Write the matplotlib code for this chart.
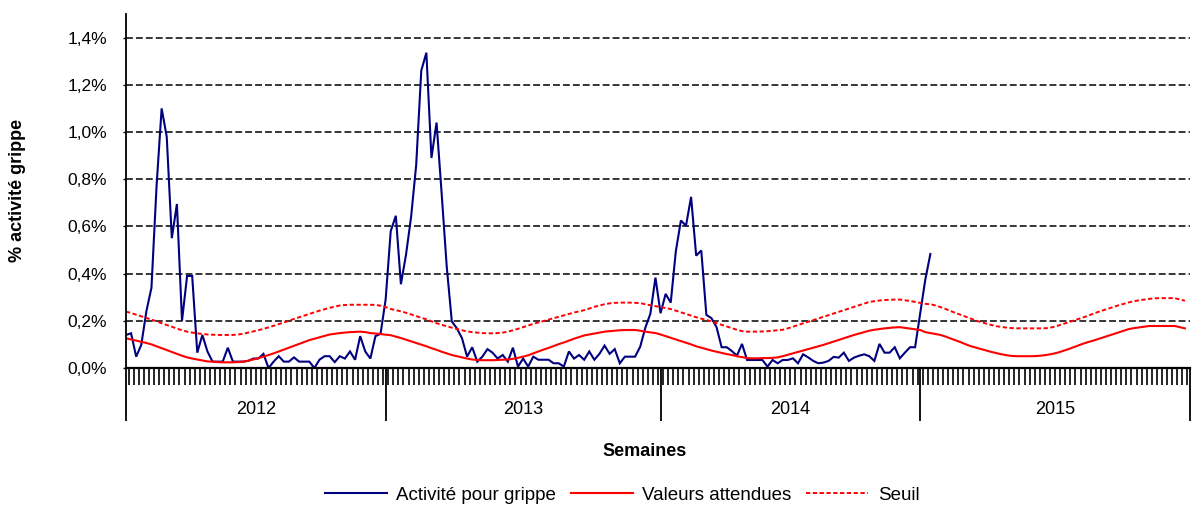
import numpy as np
import matplotlib
matplotlib.use('Agg')
import matplotlib.pyplot as plt
from matplotlib.ticker import FixedLocator, FuncFormatter
import matplotlib.transforms as mtransforms

plt.rcParams['font.family'] = ['Liberation Sans', 'DejaVu Sans']

# weekly % activity (2012 w1 -> 2015 w2)
activite = [0.14, 0.147, 0.048, 0.098, 0.24, 0.34, 0.77, 1.10, 0.98, 0.55, 0.695, 0.20, 0.39, 0.39,
            0.065, 0.14, 0.07, 0.027, 0.027, 0.027, 0.086, 0.027, 0.027, 0.027, 0.03, 0.04, 0.04, 0.06,
            0.0, 0.027, 0.05, 0.027, 0.027, 0.045, 0.027, 0.027, 0.027, 0.0, 0.035, 0.05, 0.05, 0.025,
            0.05, 0.04, 0.07, 0.035, 0.135, 0.07, 0.04, 0.135, 0.145, 0.29, 0.58, 0.645, 0.355, 0.48,
            0.64, 0.86, 1.26, 1.336, 0.89, 1.04, 0.74, 0.43, 0.197, 0.168, 0.126, 0.048, 0.088, 0.027,
            0.048, 0.08, 0.065, 0.04, 0.055, 0.027, 0.086, 0.006, 0.04, 0.006, 0.048, 0.035, 0.035,
            0.035, 0.02, 0.02, 0.006, 0.07, 0.04, 0.055, 0.035, 0.07, 0.035, 0.06, 0.095, 0.06, 0.08,
            0.02, 0.048, 0.048, 0.048, 0.09, 0.17, 0.23, 0.383, 0.232, 0.314, 0.277, 0.494, 0.625,
            0.603, 0.725, 0.476, 0.498, 0.225, 0.211, 0.173, 0.088, 0.088, 0.072, 0.052, 0.102, 0.034,
            0.034, 0.034, 0.034, 0.006, 0.034, 0.02, 0.034, 0.034, 0.041, 0.02, 0.058, 0.045, 0.03,
            0.02, 0.023, 0.03, 0.047, 0.044, 0.065, 0.03, 0.044, 0.052, 0.058, 0.05, 0.03, 0.102,
            0.065, 0.065, 0.088, 0.041, 0.065, 0.088, 0.088, 0.232, 0.374, 0.483]

attendues = [0.126, 0.121, 0.116, 0.111, 0.106, 0.100, 0.092, 0.084, 0.076, 0.068, 0.060, 0.052, 0.045,
             0.040, 0.036, 0.032, 0.028, 0.027, 0.025, 0.024, 0.024, 0.024, 0.025, 0.027, 0.031, 0.036,
             0.042, 0.048, 0.055, 0.062, 0.070, 0.078, 0.086, 0.094, 0.102, 0.110, 0.118, 0.124, 0.130,
             0.136, 0.142, 0.145, 0.148, 0.150, 0.152, 0.153, 0.154, 0.152, 0.148, 0.146, 0.144, 0.141,
             0.139, 0.133, 0.127, 0.120, 0.113, 0.106, 0.099, 0.092, 0.084, 0.077, 0.069, 0.062, 0.055,
             0.050, 0.045, 0.040, 0.036, 0.034, 0.033, 0.033, 0.033, 0.034, 0.035, 0.036, 0.039, 0.043,
             0.048, 0.054, 0.062, 0.070, 0.078, 0.085, 0.093, 0.101, 0.108, 0.116, 0.124, 0.131, 0.138,
             0.142, 0.146, 0.150, 0.154, 0.156, 0.158, 0.160, 0.161, 0.161, 0.161, 0.158, 0.154, 0.151,
             0.148, 0.142, 0.135, 0.128, 0.121, 0.114, 0.107, 0.100, 0.092, 0.086, 0.080, 0.074, 0.069,
             0.064, 0.059, 0.055, 0.050, 0.046, 0.042, 0.041, 0.041, 0.042, 0.042, 0.043, 0.045, 0.050,
             0.056, 0.062, 0.068, 0.074, 0.080, 0.086, 0.092, 0.098, 0.105, 0.112, 0.119, 0.126, 0.133,
             0.140, 0.146, 0.152, 0.158, 0.162, 0.165, 0.168, 0.170, 0.172, 0.173, 0.170, 0.167, 0.164,
             0.161, 0.152, 0.148, 0.144, 0.140, 0.133, 0.125, 0.117, 0.109, 0.100, 0.092, 0.086, 0.080,
             0.074, 0.068, 0.063, 0.058, 0.054, 0.051, 0.050, 0.050, 0.050, 0.050, 0.051, 0.053, 0.056,
             0.060, 0.065, 0.072, 0.079, 0.087, 0.095, 0.103, 0.110, 0.116, 0.123, 0.130, 0.137, 0.144,
             0.151, 0.158, 0.165, 0.169, 0.172, 0.175, 0.178, 0.178, 0.178, 0.178, 0.178, 0.178, 0.173,
             0.168]

seuil = [0.239, 0.233, 0.226, 0.219, 0.212, 0.205, 0.198, 0.190, 0.182, 0.175, 0.167, 0.160, 0.154, 0.150,
         0.147, 0.144, 0.142, 0.141, 0.140, 0.140, 0.140, 0.140, 0.142, 0.145, 0.150, 0.155, 0.160, 0.166,
         0.172, 0.179, 0.186, 0.193, 0.200, 0.208, 0.215, 0.222, 0.229, 0.236, 0.243, 0.249, 0.255, 0.260,
         0.265, 0.267, 0.268, 0.268, 0.268, 0.268, 0.268, 0.267, 0.264, 0.258, 0.250, 0.245, 0.240, 0.234,
         0.227, 0.220, 0.213, 0.206, 0.198, 0.190, 0.183, 0.177, 0.171, 0.165, 0.160, 0.155, 0.152, 0.150,
         0.148, 0.147, 0.147, 0.148, 0.150, 0.154, 0.160, 0.166, 0.173, 0.180, 0.187, 0.193, 0.199, 0.205,
         0.211, 0.217, 0.223, 0.229, 0.235, 0.240, 0.245, 0.252, 0.259, 0.265, 0.270, 0.274, 0.276, 0.277,
         0.277, 0.277, 0.276, 0.275, 0.270, 0.266, 0.262, 0.258, 0.254, 0.250, 0.243, 0.236, 0.229, 0.222,
         0.215, 0.209, 0.204, 0.197, 0.190, 0.183, 0.176, 0.169, 0.162, 0.156, 0.154, 0.154, 0.154, 0.155,
         0.156, 0.158, 0.160, 0.162, 0.168, 0.175, 0.182, 0.189, 0.196, 0.203, 0.210, 0.217, 0.224, 0.231,
         0.238, 0.245, 0.252, 0.259, 0.266, 0.273, 0.280, 0.283, 0.286, 0.288, 0.289, 0.290, 0.290, 0.287,
         0.284, 0.280, 0.276, 0.272, 0.270, 0.265, 0.258, 0.250, 0.241, 0.233, 0.225, 0.217, 0.209, 0.201,
         0.194, 0.188, 0.182, 0.177, 0.174, 0.171, 0.169, 0.168, 0.168, 0.168, 0.168, 0.168, 0.168, 0.169,
         0.173, 0.179, 0.186, 0.193, 0.200, 0.207, 0.214, 0.222, 0.230, 0.238, 0.245, 0.252, 0.259, 0.266,
         0.272, 0.278, 0.283, 0.287, 0.290, 0.293, 0.295, 0.296, 0.296, 0.296, 0.296, 0.290, 0.285]

years = ['2012', '2013', '2014', '2015']
year_bounds = [0, 51, 105, 156, 209]   # week positions of the year separators
n_weeks = 209

fig = plt.figure(figsize=(11.98, 5.07), dpi=100)
ax = fig.add_axes([126 / 1198, 1 - 368 / 507, (1190 - 126) / 1198, (368 - 14) / 507])

ax.plot(np.arange(len(activite)), activite, color='#000080', lw=1.5, label='Activité pour grippe',
        solid_joinstyle='miter')
ax.plot(np.arange(len(attendues)), attendues, color='#FF0000', lw=1.5, label='Valeurs attendues')
ax.plot(np.arange(len(seuil)), seuil, color='#FF0000', lw=1.4, linestyle=(0, (2.2, 1.3)), label='Seuil')

ax.set_xlim(0, n_weeks)
ax.set_ylim(0, 1.5)

yt = np.arange(0, 1.41, 0.2)
ax.set_yticks(yt)
ax.yaxis.set_major_formatter(FuncFormatter(lambda v, p: ('%.1f%%' % v).replace('.', ',')))
ax.tick_params(axis='y', direction='out', length=2.5, width=1.0, pad=11, labelsize=12.5)
for v in yt[1:]:
    ax.axhline(v, color='black', lw=1.1, linestyle=(0, (4.5, 2)), zorder=0)

# weekly ticks + year separators
ax.xaxis.set_minor_locator(FixedLocator(np.arange(n_weeks) + 0.5))
ax.xaxis.set_major_locator(FixedLocator(year_bounds))
ax.tick_params(axis='x', which='minor', direction='out', length=12.5, width=1.2, color='black')
ax.tick_params(axis='x', which='major', direction='out', length=38, width=1.3, labelbottom=False)

trans = mtransforms.blended_transform_factory(ax.transData, ax.transAxes)
for i, y in enumerate(years):
    ax.text((year_bounds[i] + year_bounds[i + 1]) / 2, -0.117, y, transform=trans,
            ha='center', va='center', fontsize=13)

for s in ['top', 'right']:
    ax.spines[s].set_visible(False)
ax.spines['left'].set_linewidth(1.3)
ax.spines['bottom'].set_linewidth(1.6)

fig.text(18 / 1198, 1 - 190 / 507, '% activité grippe', rotation=90, ha='center', va='center',
         fontsize=13, fontweight='bold')
fig.text(645 / 1198, 1 - 452 / 507, 'Semaines', ha='center', va='center', fontsize=13, fontweight='bold')

fig.legend(loc='center', bbox_to_anchor=(622 / 1198, 1 - 495 / 507), ncol=3, frameon=False,
           fontsize=13.5, handlelength=3.3, columnspacing=0.8, handletextpad=0.5)

fig.savefig('out.png', dpi=100)
